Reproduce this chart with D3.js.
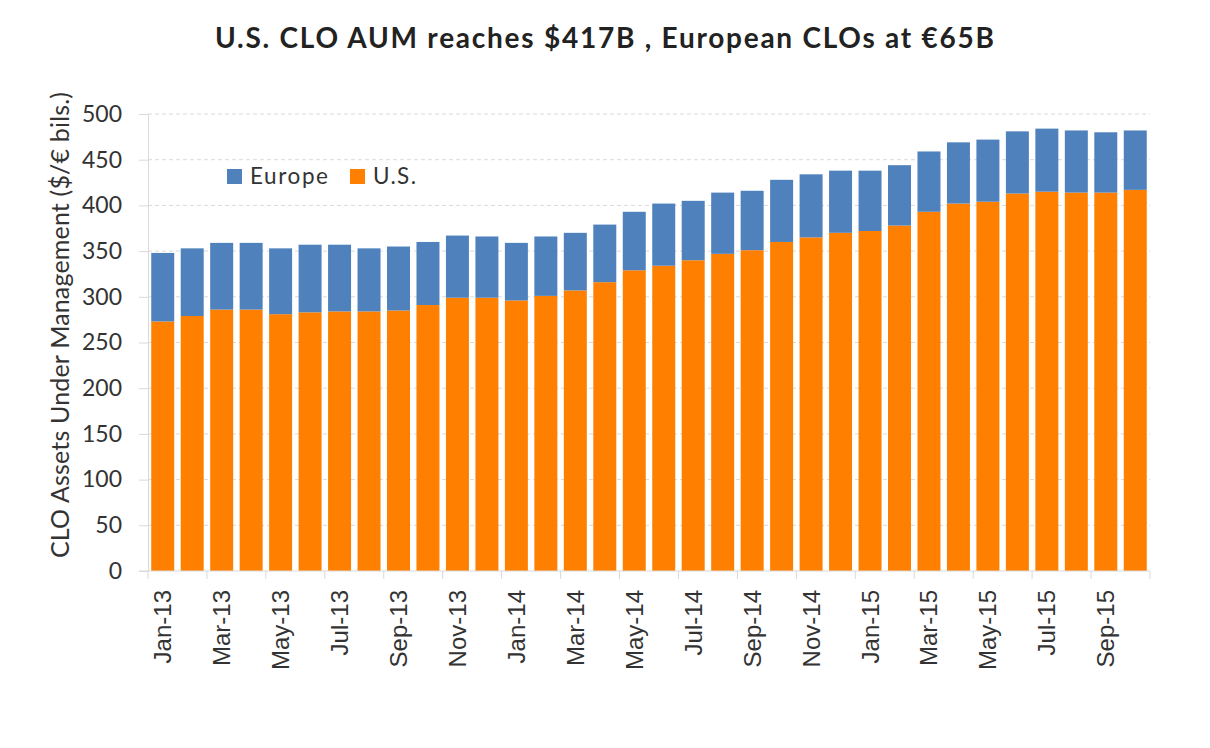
<!DOCTYPE html>
<html>
<head>
<meta charset="utf-8">
<script src="https://cdn.jsdelivr.net/npm/d3@7"></script>
<style>
  body { margin: 0; background: #fff; }
  svg { display: block; }
</style>
</head>
<body>
<svg id="chart" width="1210" height="748"></svg>
<script>
// months Jan-13 .. Oct-15
const months = ["Jan-13","Feb-13","Mar-13","Apr-13","May-13","Jun-13","Jul-13","Aug-13","Sep-13","Oct-13","Nov-13","Dec-13",
                "Jan-14","Feb-14","Mar-14","Apr-14","May-14","Jun-14","Jul-14","Aug-14","Sep-14","Oct-14","Nov-14","Dec-14",
                "Jan-15","Feb-15","Mar-15","Apr-15","May-15","Jun-15","Jul-15","Aug-15","Sep-15","Oct-15"];
const usValues = [273, 279, 286, 286, 281, 283, 284, 284, 285, 291, 299, 299,
                  296, 301, 307, 316, 329, 334, 340, 347, 351, 360, 365, 370,
                  372, 378, 393, 402, 404, 413, 415, 414, 414, 417];
const totalValues = [348, 353, 359, 359, 353, 357, 357, 353, 355, 360, 367, 366,
                     359, 366, 370, 379, 393, 402, 405, 414, 416, 428, 434, 438,
                     438, 444, 459, 469, 472, 481, 484, 482, 480, 482];
const europeValues = totalValues.map((t, i) => t - usValues[i]);
const yTicks = [0, 50, 100, 150, 200, 250, 300, 350, 400, 450, 500];
const seriesNames = ["Europe", "U.S."];
const colors = {"Europe": "#4F81BD", "U.S.": "#FF8000"};

const svg = d3.select("#chart");
const margin = {top: 114, right: 60, bottom: 177, left: 148};
const W = 1210, H = 748;
const sans = "Lato, 'Open Sans', sans-serif";

const x = d3.scaleBand()
    .domain(months)
    .range([margin.left, W - margin.right])
    .paddingInner(0.22)
    .paddingOuter(0.11);
const y = d3.scaleLinear()
    .domain([0, 500])
    .range([H - margin.bottom, margin.top]);

// title
svg.append("text")
    .attr("x", 604.5).attr("y", 48)
    .attr("text-anchor", "middle")
    .attr("textLength", 779)
    .attr("lengthAdjust", "spacing")
    .style("font-family", sans)
    .style("font-weight", "bold")
    .style("font-size", "28px")
    .style("fill", "#222")
    .text("U.S. CLO AUM reaches $417B , European CLOs at €65B");

// gridlines
svg.append("g").selectAll("line")
    .data(yTicks.filter(d => d > 0))
    .join("line")
    .attr("x1", margin.left).attr("x2", W - margin.right)
    .attr("y1", d => y(d)).attr("y2", d => y(d))
    .attr("stroke", "#d9d9d9")
    .attr("stroke-dasharray", "4,3")
    .attr("stroke-width", 1);

// stacked bars
const rows = months.map((m, i) => ({month: m, "U.S.": usValues[i], "Europe": europeValues[i]}));
const stack = d3.stack().keys(["U.S.", "Europe"])(rows);

svg.append("g").selectAll("g")
    .data(stack)
    .join("g")
    .attr("fill", d => colors[d.key])
    .selectAll("rect")
    .data(d => d)
    .join("rect")
    .attr("x", d => x(d.data.month))
    .attr("width", x.bandwidth())
    .attr("y", d => y(d[1]))
    .attr("height", d => y(d[0]) - y(d[1]));

// y axis
const yAxis = svg.append("g")
    .attr("transform", `translate(${margin.left},0)`)
    .call(d3.axisLeft(y).tickValues(yTicks).tickSize(9).tickSizeOuter(0).tickPadding(17));
yAxis.select(".domain").attr("stroke", "#d9d9d9");
yAxis.selectAll(".tick line").attr("stroke", "#d9d9d9");
yAxis.selectAll("text")
    .style("font-family", sans)
    .style("font-size", "23px")
    .style("fill", "#333");

// y axis label
svg.append("text")
    .attr("transform", `translate(69,325) rotate(-90)`)
    .attr("text-anchor", "middle")
    .attr("textLength", 466)
    .attr("lengthAdjust", "spacing")
    .style("font-family", sans)
    .style("font-size", "25px")
    .style("fill", "#333")
    .text("CLO Assets Under Management ($/€ bils.)");

// x axis
const xAxisG = svg.append("g");
xAxisG.append("line")
    .attr("x1", margin.left - 9).attr("x2", W - margin.right)
    .attr("y1", y(0)).attr("y2", y(0))
    .attr("stroke", "#d9d9d9");
const halfGap = x.step() * x.paddingInner() / 2;
const tickMonths = months.filter((m, i) => i % 2 === 0);
xAxisG.selectAll(".xtick")
    .data(tickMonths.concat(["__end"]))
    .join("line")
    .attr("x1", d => d === "__end" ? W - margin.right : x(d) - halfGap)
    .attr("x2", d => d === "__end" ? W - margin.right : x(d) - halfGap)
    .attr("y1", y(0)).attr("y2", y(0) + 8)
    .attr("stroke", "#d9d9d9");
xAxisG.selectAll(".xlabel")
    .data(tickMonths)
    .join("text")
    .attr("transform", d => `translate(${x(d) + x.bandwidth() / 2 + 8.5},${y(0) + 19}) rotate(-90)`)
    .attr("text-anchor", "end")
    .style("font-family", "'Liberation Sans', Arial, sans-serif")
    .style("font-size", "24px")
    .style("fill", "#333")
    .text(d => d);

// legend
const legend = svg.append("g").attr("transform", "translate(227,169)");
const legendX = [0, 123];
const legendLen = [78, 43];
seriesNames.forEach((name, i) => {
    const g = legend.append("g").attr("transform", `translate(${legendX[i]},0)`);
    g.append("rect").attr("width", 15).attr("height", 15).attr("fill", colors[name]);
    g.append("text")
        .attr("x", 23).attr("y", 15)
        .attr("textLength", legendLen[i])
        .attr("lengthAdjust", "spacing")
        .style("font-family", sans)
        .style("font-size", "22.5px")
        .style("fill", "#333")
        .text(name);
});
</script>
</body>
</html>
